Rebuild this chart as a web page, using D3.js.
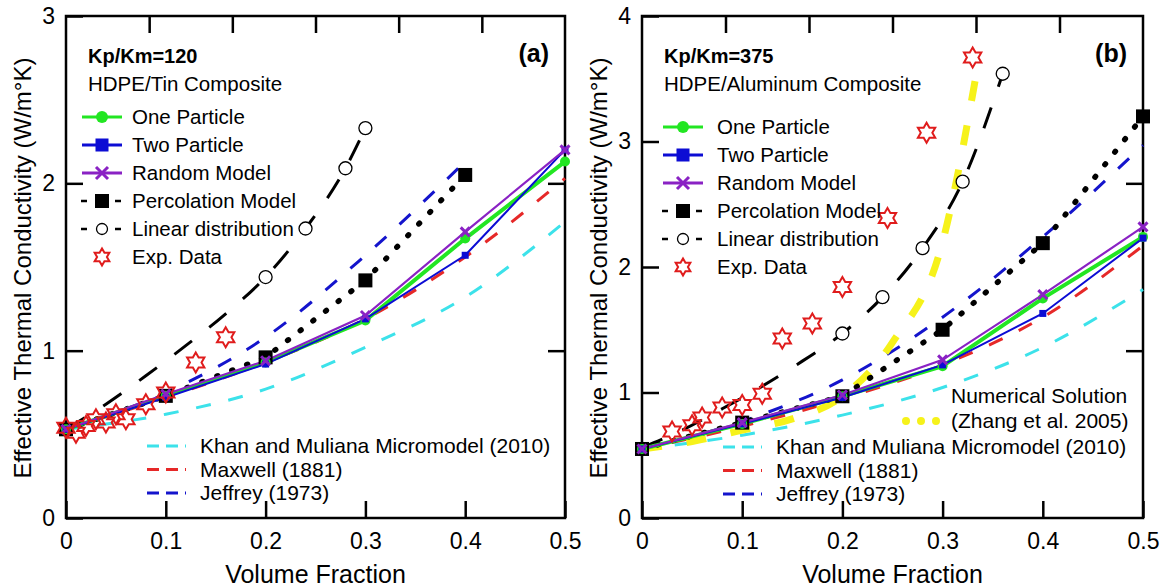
<!DOCTYPE html>
<html>
<head>
<meta charset="utf-8">
<script src="https://cdnjs.cloudflare.com/ajax/libs/d3/7.8.5/d3.min.js"></script>
<style>
    body { margin: 0; background: #fff; }
    svg { font-family: "Liberation Sans", Arial, sans-serif; }
</style>
</head>
<body>
<svg id="chart"></svg>
<script>
// ---------------- data
var fractions = [0, 0.1, 0.2, 0.3, 0.4, 0.5];
var xTickLabels = ["0", "0.1", "0.2", "0.3", "0.4", "0.5"];
var yTicksA = [0, 1, 2, 3];
var yTicksB = [0, 1, 2, 3, 4];

// (a) HDPE/Tin, Kp/Km = 120
var onePartA = [0.53, 0.73, 0.93, 1.18, 1.67, 2.13];
var twoPartA = [0.53, 0.72, 0.92, 1.19, 1.57, 2.20];
var randomA  = [0.53, 0.74, 0.94, 1.21, 1.71, 2.20];
var percFracA = [0, 0.1, 0.2, 0.3, 0.4];
var percA     = [0.53, 0.73, 0.96, 1.42, 2.05];
var linFracA = [0, 0.04, 0.08, 0.12, 0.16, 0.2, 0.24, 0.28, 0.3];
var linA     = [0.53, 0.68, 0.85, 1.03, 1.22, 1.44, 1.73, 2.09, 2.33];
var expFracA = [0, 0.01, 0.02, 0.03, 0.04, 0.05, 0.06, 0.08, 0.1, 0.13, 0.16];
var expA     = [0.54, 0.51, 0.55, 0.59, 0.57, 0.62, 0.59, 0.68, 0.75, 0.93, 1.08];
var khanA    = [0.53, 0.62, 0.77, 1.02, 1.32, 1.77];
var maxwellA = [0.53, 0.72, 0.93, 1.19, 1.56, 2.03];
var jefFracA = [0, 0.1, 0.2, 0.3, 0.4];
var jeffreyA = [0.53, 0.75, 1.08, 1.57, 2.13];

// (b) HDPE/Aluminum, Kp/Km = 375
var onePartB = [0.55, 0.75, 0.97, 1.21, 1.75, 2.24];
var twoPartB = [0.55, 0.75, 0.96, 1.22, 1.63, 2.23];
var randomB  = [0.55, 0.76, 0.98, 1.26, 1.78, 2.32];
var percB    = [0.55, 0.76, 0.97, 1.50, 2.19, 3.20];
var linFracB = [0, 0.04, 0.08, 0.12, 0.16, 0.2, 0.24, 0.28, 0.32, 0.36];
var linB     = [0.56, 0.70, 0.87, 1.05, 1.25, 1.47, 1.76, 2.15, 2.68, 3.54];
var expFracB = [0.03, 0.05, 0.06, 0.08, 0.1, 0.12, 0.14, 0.17, 0.2, 0.245, 0.284, 0.33];
var expB     = [0.69, 0.74, 0.80, 0.88, 0.90, 0.99, 1.43, 1.55, 1.84, 2.39, 3.07, 3.67];
var numFracB = [0, 0.05, 0.1, 0.15, 0.2, 0.25, 0.3, 0.335];
var numB     = [0.55, 0.61, 0.70, 0.79, 0.97, 1.40, 2.20, 3.60];
var khanB    = [0.55, 0.66, 0.82, 1.04, 1.36, 1.82];
var maxwellB = [0.55, 0.73, 0.95, 1.22, 1.60, 2.17];
var jeffreyB = [0.55, 0.77, 1.10, 1.60, 2.24, 2.97];

// ---------------- svg setup
var width = 1163, height = 587;
var svg = d3.select("#chart").attr("width", width).attr("height", height);

var plotTop = 16, plotBottom = 518;

var colors = {
    one: "#22e622", two: "#0c0cd4", rand: "#8a22c4", perc: "#000",
    khan: "#3ce2ea", maxwell: "#e62828", jeffrey: "#1414cc",
    num: "#f6f21a", exp: "#e01c1c"
};

// zip two arrays into points
function pts(xs, ys) {
    return xs.map(function (v, i) { return {x: v, y: ys[i]}; });
}

// six pointed star outline
function starPath(r) {
    var p = [];
    for (var i = 0; i < 12; i++) {
        var a = -Math.PI / 2 + i * Math.PI / 6;
        var rr = (i % 2 == 0) ? r : r / Math.sqrt(3);
        p.push([rr * Math.cos(a), rr * Math.sin(a)]);
    }
    return "M" + p.join("L") + "Z";
}

// draw one marker of a given kind at (cx, cy)
function marker(g, kind, cx, cy, big) {
    if (kind == "circle") {
        g.append("circle").attr("cx", cx).attr("cy", cy).attr("r", big ? 6 : 5)
            .attr("fill", colors.one);
    } else if (kind == "square") {
        var s = big ? 13 : 7;
        g.append("rect").attr("x", cx - s / 2).attr("y", cy - s / 2)
            .attr("width", s).attr("height", s).attr("fill", colors.two);
    } else if (kind == "x") {
        var r = big ? 6 : 4.5;
        g.append("path")
            .attr("d", "M" + (cx - r) + "," + (cy - r) + "L" + (cx + r) + "," + (cy + r) +
                       "M" + (cx - r) + "," + (cy + r) + "L" + (cx + r) + "," + (cy - r))
            .attr("stroke", colors.rand).attr("stroke-width", 3);
    } else if (kind == "bsquare") {
        g.append("rect").attr("x", cx - 7).attr("y", cy - 7)
            .attr("width", 14).attr("height", 14).attr("fill", "#000");
    } else if (kind == "ocircle") {
        g.append("circle").attr("cx", cx).attr("cy", cy).attr("r", big ? 5.5 : 6.5)
            .attr("fill", "#fff").attr("stroke", "#000").attr("stroke-width", 1.3);
    } else if (kind == "star") {
        g.append("path").attr("d", starPath(big ? 8.5 : 10))
            .attr("transform", "translate(" + cx + "," + cy + ")")
            .attr("fill", "none").attr("stroke", colors.exp).attr("stroke-width", 2);
    }
}

function drawPanel(p) {
    var x = d3.scaleLinear().domain([0, 0.5]).range([p.left, p.right]);
    var y = d3.scaleLinear().domain([0, p.ymax]).range([plotBottom, plotTop]);
    var g = svg.append("g");

    var straight = d3.line().x(function (d) { return x(d.x); }).y(function (d) { return y(d.y); });
    var smooth = d3.line().curve(d3.curveMonotoneX)
        .x(function (d) { return x(d.x); }).y(function (d) { return y(d.y); });

    // frame
    g.append("rect")
        .attr("x", p.left).attr("y", plotTop)
        .attr("width", p.right - p.left).attr("height", plotBottom - plotTop)
        .attr("fill", "none").attr("stroke", "#000").attr("stroke-width", 2.5);

    // bottom axis
    var xAxis = d3.axisBottom(x).tickValues(fractions)
        .tickFormat(function (d, i) { return xTickLabels[i]; })
        .tickSizeInner(-17).tickSizeOuter(0).tickPadding(15);
    var gx = g.append("g").attr("transform", "translate(0," + plotBottom + ")").call(xAxis);

    // left axis
    var yAxis = d3.axisLeft(y).tickValues(p.yTicks).tickFormat(d3.format("d"))
        .tickSizeInner(-17).tickSizeOuter(0).tickPadding(11);
    var gy = g.append("g").attr("transform", "translate(" + p.left + ",0)").call(yAxis);

    // top and right minor frames ticks
    var xTop = d3.scaleLinear().domain([0, 6]).range([p.left, p.right]);
    var gt = g.append("g").attr("transform", "translate(0," + plotTop + ")")
        .call(d3.axisTop(xTop).tickValues([1, 2, 3, 4, 5]).tickFormat("").tickSizeInner(-17).tickSizeOuter(0));
    var yRight = d3.scaleLinear().domain([0, 3]).range([plotBottom, plotTop]);
    var gr = g.append("g").attr("transform", "translate(" + p.right + ",0)")
        .call(d3.axisRight(yRight).tickValues([1, 2]).tickFormat("").tickSizeInner(-17).tickSizeOuter(0));

    [gx, gy, gt, gr].forEach(function (a) {
        a.select(".domain").remove();
        a.selectAll(".tick line").attr("stroke", "#000").attr("stroke-width", 2.5);
        a.selectAll(".tick text").attr("fill", "#000").style("font-size", "23px")
            .style("font-family", "Liberation Sans, Arial, sans-serif");
    });

    // axis titles
    g.append("text")
        .attr("x", (p.left + p.right) / 2).attr("y", 583)
        .attr("text-anchor", "middle").style("font-size", "25px")
        .text("Volume Fraction");
    g.append("text")
        .attr("transform", "translate(" + (p.left - 35) + "," + ((plotTop + plotBottom) / 2 + 1) + ") rotate(-90)")
        .attr("text-anchor", "middle").style("font-size", "24px")
        .text("Effective Thermal Conductivity (W/m°K)");

    // model curves
    function curve(data, gen, color, w, dash, cap) {
        g.append("path").datum(data).attr("d", gen)
            .attr("fill", "none").attr("stroke", color).attr("stroke-width", w)
            .attr("stroke-dasharray", dash).attr("stroke-linecap", cap || "butt");
    }
    curve(pts(fractions, p.khan), smooth, colors.khan, 3, "15 18");
    curve(pts(p.jefFrac, p.jeffrey), smooth, colors.jeffrey, 3, "15 18");
    curve(pts(fractions, p.maxwell), smooth, colors.maxwell, 3, "15 18");
    if (p.num) curve(pts(p.numFrac, p.num), smooth, colors.num, 7, "20 25");
    curve(pts(p.linFrac, p.lin), smooth, "#000", 3, "22 22");
    curve(pts(p.percFrac, p.perc), straight, "#000", 5.5, "1 15", "round");
    curve(pts(fractions, p.one), straight, colors.one, 4, null);
    curve(pts(fractions, p.two), straight, colors.two, 2, null);
    curve(pts(fractions, p.rand), straight, colors.rand, 2.2, null);

    // markers
    pts(p.percFrac, p.perc).forEach(function (d) { marker(g, "bsquare", x(d.x), y(d.y)); });
    pts(p.linFrac, p.lin).forEach(function (d) {
        if (d.x >= 0.2) marker(g, "ocircle", x(d.x), y(d.y));
    });
    pts(fractions, p.one).forEach(function (d) { marker(g, "circle", x(d.x), y(d.y)); });
    pts(fractions, p.two).forEach(function (d) { marker(g, "square", x(d.x), y(d.y)); });
    pts(fractions, p.rand).forEach(function (d) { marker(g, "x", x(d.x), y(d.y)); });
    pts(p.expFrac, p.exp).forEach(function (d) { marker(g, "star", x(d.x), y(d.y)); });

    // header texts
    g.append("text").attr("x", p.left + 22).attr("y", 63)
        .style("font-size", "20px").style("font-weight", "bold").text(p.ratio);
    g.append("text").attr("x", p.left + 22).attr("y", 91)
        .style("font-size", "20.5px").text(p.material);
    g.append("text").attr("x", p.right - 16).attr("y", 62).attr("text-anchor", "end")
        .style("font-size", "25px").style("font-weight", "bold").text(p.tag);

    // top legend
    var entries = [
        {kind: "circle", color: colors.one, w: 3, label: "One Particle"},
        {kind: "square", color: colors.two, w: 3, label: "Two Particle"},
        {kind: "x", color: colors.rand, w: 3, label: "Random Model"},
        {kind: "bsquare", color: "#000", w: 2.5, label: "Percolation Model", dashed: true},
        {kind: "ocircle", color: "#000", w: 2.5, label: "Linear distribution", dashed: true},
        {kind: "star", label: "Exp. Data"}
    ];
    var cx = p.left + p.legSym;
    entries.forEach(function (e, i) {
        var cy = p.legTop + i * 28;
        if (e.kind != "star") {
            if (e.dashed) {
                g.append("line").attr("x1", cx - 21).attr("x2", cx - 15).attr("y1", cy).attr("y2", cy)
                    .attr("stroke", "#000").attr("stroke-width", e.w);
                g.append("line").attr("x1", cx + 13).attr("x2", cx + 19).attr("y1", cy).attr("y2", cy)
                    .attr("stroke", "#000").attr("stroke-width", e.w);
            } else {
                g.append("line").attr("x1", cx - 20).attr("x2", cx + 20).attr("y1", cy).attr("y2", cy)
                    .attr("stroke", e.color).attr("stroke-width", e.w);
            }
        }
        marker(g, e.kind, cx, cy, true);
        g.append("text").attr("x", p.left + p.legText).attr("y", cy + 7)
            .style("font-size", "20.5px").text(e.label);
    });

    // bottom legend
    var lower = [
        {color: colors.khan, label: "Khan and Muliana Micromodel (2010)"},
        {color: colors.maxwell, label: "Maxwell (1881)"},
        {color: colors.jeffrey, label: "Jeffrey (1973)"}
    ];
    lower.forEach(function (e, i) {
        var cy = p.lowTop + i * 23.5;
        g.append("line").attr("x1", p.left + 81).attr("x2", p.left + 120)
            .attr("y1", cy).attr("y2", cy)
            .attr("stroke", e.color).attr("stroke-width", 3).attr("stroke-dasharray", "12 7");
        g.append("text").attr("x", p.left + 134).attr("y", cy + 7)
            .style("font-size", "21px").text(e.label);
    });

    if (p.num) {
        g.append("line").attr("x1", p.left + 264).attr("x2", p.left + 296)
            .attr("y1", 421).attr("y2", 421)
            .attr("stroke", colors.num).attr("stroke-width", 8)
            .attr("stroke-linecap", "round").attr("stroke-dasharray", "0 15");
        g.append("text").attr("x", p.left + 309).attr("y", 403)
            .style("font-size", "21px").text("Numerical Solution");
        g.append("text").attr("x", p.left + 309).attr("y", 428)
            .style("font-size", "21px").text("(Zhang et al. 2005)");
    }
}

drawPanel({
    left: 66, right: 565, ymax: 3, yTicks: yTicksA,
    one: onePartA, two: twoPartA, rand: randomA,
    percFrac: percFracA, perc: percA,
    linFrac: linFracA, lin: linA,
    expFrac: expFracA, exp: expA,
    khan: khanA, maxwell: maxwellA, jefFrac: jefFracA, jeffrey: jeffreyA,
    ratio: "Kp/Km=120", material: "HDPE/Tin Composite", tag: "(a)",
    legTop: 117, legSym: 36, legText: 66, lowTop: 446
});

drawPanel({
    left: 642, right: 1143, ymax: 4, yTicks: yTicksB,
    one: onePartB, two: twoPartB, rand: randomB,
    percFrac: fractions, perc: percB,
    linFrac: linFracB, lin: linB,
    expFrac: expFracB, exp: expB,
    khan: khanB, maxwell: maxwellB, jefFrac: fractions, jeffrey: jeffreyB,
    numFrac: numFracB, num: numB,
    ratio: "Kp/Km=375", material: "HDPE/Aluminum Composite", tag: "(b)",
    legTop: 127, legSym: 41, legText: 75, lowTop: 447
});
</script>
</body>
</html>
